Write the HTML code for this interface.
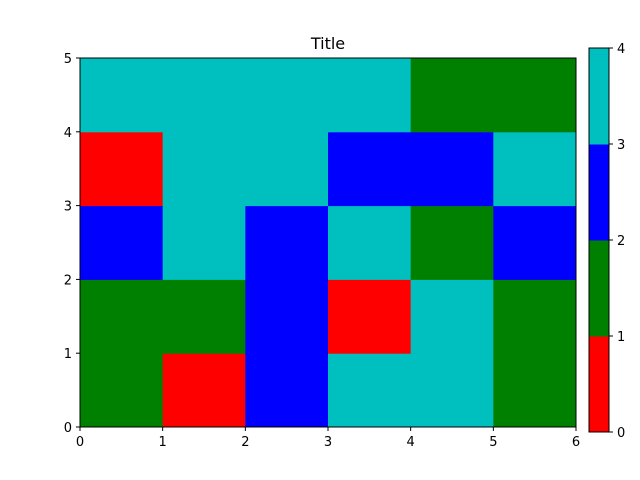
<!DOCTYPE html>
<html><head><meta charset="utf-8"><style>body{margin:0;background:#fff}svg{display:block;font-family:"DejaVu Sans","Liberation Sans",sans-serif}</style></head>
<body>
<svg id="chart" width="640" height="480">
<text x="328" y="49" font-size="16" text-anchor="middle">Title</text>
<g id="cells"></g><g id="axes"></g><g id="cbar"></g>
</svg>
<script>
const xTicks = [0,1,2,3,4,5,6];
const yTicks = [0,1,2,3,4,5];
const cbTicks = [0,1,2,3,4];
const palette = ["#ff0000","#008000","#0000ff","#00bfbf"];
// rows from bottom (y=0) to top
const row0 = [1,0,2,3,3,1];
const row1 = [1,1,2,0,3,1];
const row2 = [2,3,2,3,1,2];
const row3 = [0,3,3,2,2,3];
const row4 = [3,3,3,3,1,1];
const grid = [row0,row1,row2,row3,row4];
const ns="http://www.w3.org/2000/svg";
const X0=80,X1=576,Y0=427,Y1=58;
const sx=v=>X0+(X1-X0)*v/6, sy=v=>Y0-(Y0-Y1)*v/5;
function mk(t,a,p){const e=document.createElementNS(ns,t);for(const k in a)e.setAttribute(k,a[k]);p.appendChild(e);return e;}
const cells=document.getElementById('cells');
grid.forEach((r,j)=>r.forEach((v,i)=>{
 const e=mk('rect',{x:sx(i),y:sy(j+1),width:sx(i+1)-sx(i)+0.5,height:sy(j)-sy(j+1)+0.5,fill:palette[v]},cells);
 
 
}));
const ax=document.getElementById('axes');
const fr=mk('rect',{x:X0,y:Y1,width:X1-X0,height:Y0-Y1,fill:'none',stroke:'#000','stroke-width':1},ax);


xTicks.forEach(t=>{mk('line',{x1:sx(t),x2:sx(t),y1:Y0,y2:Y0+4,stroke:'#000'},ax);
 const e=mk('text',{x:sx(t),y:Y0+19,'font-size':13,'text-anchor':'middle'},ax);e.textContent=t;
 
 });
yTicks.forEach(t=>{mk('line',{x1:X0-4,x2:X0,y1:sy(t),y2:sy(t),stroke:'#000'},ax);
 const e=mk('text',{x:X0-8,y:sy(t)+5,'font-size':13,'text-anchor':'end'},ax);e.textContent=t;
 
 });
const cb=document.getElementById('cbar');
const CX=589,CW=20,CT=48,CB=432;
const cy=v=>CB-(CB-CT)*v/4;
palette.forEach((c,i)=>{const e=mk('rect',{x:CX,y:cy(i+1),width:CW,height:cy(i)-cy(i+1)+0.5,fill:c},cb);
 
 });
const cf=mk('rect',{x:CX,y:CT,width:CW,height:CB-CT,fill:'none',stroke:'#000'},cb);


cbTicks.forEach(t=>{mk('line',{x1:CX+CW,x2:CX+CW+4,y1:cy(t),y2:cy(t),stroke:'#000'},cb);
 const e=mk('text',{x:CX+CW+8,y:cy(t)+5,'font-size':13},cb);e.textContent=t;
 
 });
</script>
</body></html>
